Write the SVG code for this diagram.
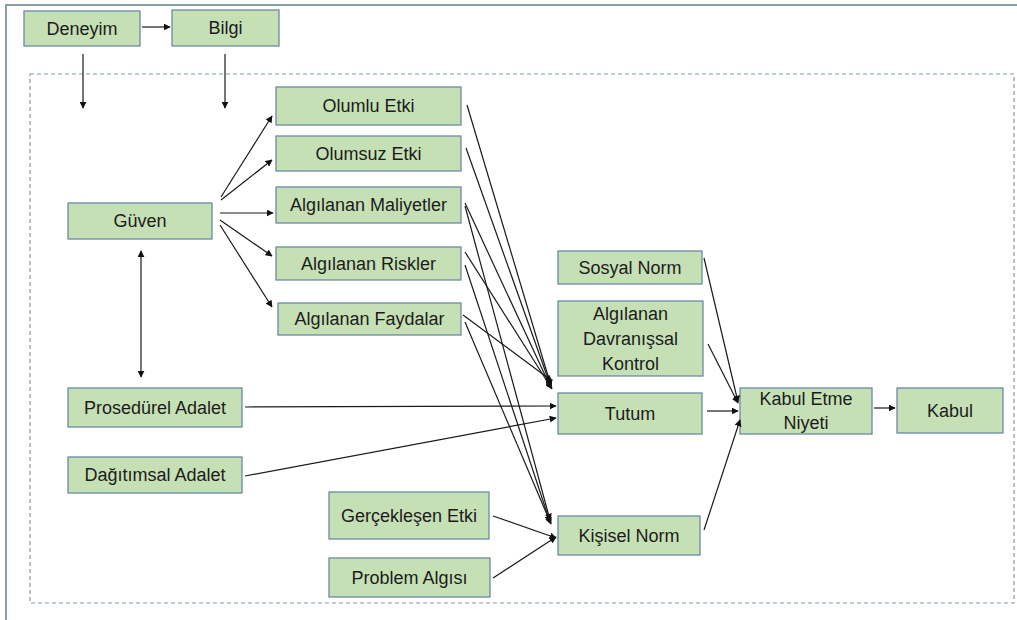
<svg xmlns="http://www.w3.org/2000/svg" width="1017" height="620" viewBox="0 0 1017 620">
<defs>
<marker id="ah" viewBox="0 0 10 10" refX="9" refY="5" markerWidth="7" markerHeight="7" markerUnits="userSpaceOnUse" orient="auto-start-reverse">
<path d="M0,0 L10,5 L0,10 z" fill="#111"/>
</marker>
<style>
.n rect{fill:#c6e0b5;stroke:#6a8ba4;stroke-width:1.3}
.n text{font-family:"Liberation Sans",Arial,sans-serif;font-size:18px;fill:#1c1c1c;text-anchor:middle;dominant-baseline:central}
.c line{stroke:#1a1a1a;stroke-width:1.2;marker-end:url(#ah)}
</style>
</defs>
<rect width="1017" height="620" fill="#fff"/>
<path d="M6,620 V5 H1017" fill="none" stroke="#8c9ea6" stroke-width="2"/>
<rect x="30" y="74" width="984" height="529" fill="none" stroke="#8499a8" stroke-width="1.2" stroke-dasharray="4 3"/>

<g id="n-deneyim" class="n"><rect x="24" y="11" width="116" height="35"/><text x="82" y="28.5">Deneyim</text></g>
<g id="n-bilgi" class="n"><rect x="172" y="10" width="107" height="36"/><text x="225.5" y="28">Bilgi</text></g>
<g id="n-olumlu" class="n"><rect x="276" y="87" width="185" height="38"/><text x="368.5" y="106">Olumlu Etki</text></g>
<g id="n-olumsuz" class="n"><rect x="276" y="136" width="185" height="35"/><text x="368.5" y="153.5">Olumsuz Etki</text></g>
<g id="n-maliyet" class="n"><rect x="276" y="187" width="185" height="36"/><text x="368.5" y="205">Algılanan Maliyetler</text></g>
<g id="n-risk" class="n"><rect x="276" y="247" width="185" height="33"/><text x="368.5" y="263.5">Algılanan Riskler</text></g>
<g id="n-fayda" class="n"><rect x="278" y="303" width="183" height="32"/><text x="369.5" y="319">Algılanan Faydalar</text></g>
<g id="n-guven" class="n"><rect x="68" y="203" width="144" height="36"/><text x="140" y="221">Güven</text></g>
<g id="n-prosedurel" class="n"><rect x="68" y="388" width="174" height="39"/><text x="155" y="407.5">Prosedürel Adalet</text></g>
<g id="n-dagitimsal" class="n"><rect x="68" y="457" width="174" height="36"/><text x="155" y="475">Dağıtımsal Adalet</text></g>
<g id="n-sosyal" class="n"><rect x="558" y="251" width="144" height="33"/><text x="630" y="267.5">Sosyal Norm</text></g>
<g id="n-adk" class="n"><rect x="558" y="301" width="145" height="75"/><text x="630.5" y="314">Algılanan</text><text x="630.5" y="339">Davranışsal</text><text x="630.5" y="364">Kontrol</text></g>
<g id="n-tutum" class="n"><rect x="558" y="393" width="144" height="41"/><text x="630" y="413.5">Tutum</text></g>
<g id="n-niyet" class="n"><rect x="740" y="388" width="132" height="46"/><text x="806" y="399">Kabul Etme</text><text x="806" y="423">Niyeti</text></g>
<g id="n-kabul" class="n"><rect x="897" y="388" width="106" height="45"/><text x="950" y="410.5">Kabul</text></g>
<g id="n-gerceklesen" class="n"><rect x="329" y="492" width="160" height="47"/><text x="409" y="515.5">Gerçekleşen Etki</text></g>
<g id="n-problem" class="n"><rect x="329" y="558" width="161" height="39"/><text x="409.5" y="577.5">Problem Algısı</text></g>
<g id="n-kisisel" class="n"><rect x="558" y="516" width="142" height="39"/><text x="629" y="535.5">Kişisel Norm</text></g>

<g id="connectors" class="c">
<line x1="142" y1="27" x2="170" y2="27"/>
<line x1="83" y1="54" x2="83" y2="108"/>
<line x1="225" y1="54" x2="225" y2="108"/>
<line x1="221" y1="197" x2="272" y2="116"/>
<line x1="221" y1="200" x2="272" y2="160"/>
<line x1="220" y1="213" x2="273" y2="213"/>
<line x1="220" y1="220" x2="272" y2="256"/>
<line x1="220" y1="225" x2="272" y2="307"/>
<line x1="141" y1="377" x2="141" y2="251" style="marker-start:url(#ah)"/>
<line x1="467" y1="105" x2="551" y2="386"/>
<line x1="466" y1="148" x2="551" y2="387"/>
<line x1="465" y1="203" x2="551" y2="388"/>
<line x1="465" y1="206" x2="550" y2="520"/>
<line x1="465" y1="252" x2="552" y2="389"/>
<line x1="465" y1="265" x2="550" y2="522"/>
<line x1="463" y1="315" x2="552" y2="381"/>
<line x1="465" y1="322" x2="551" y2="524"/>
<line x1="245" y1="407" x2="556" y2="406"/>
<line x1="245" y1="476" x2="556" y2="418"/>
<line x1="493" y1="516" x2="556" y2="538"/>
<line x1="493" y1="578" x2="556" y2="537"/>
<line x1="707" y1="411" x2="738" y2="411"/>
<line x1="704" y1="258" x2="738" y2="402"/>
<line x1="708" y1="344" x2="738" y2="403"/>
<line x1="704" y1="530" x2="740" y2="420"/>
<line x1="874" y1="408" x2="895" y2="408"/>
</g>
</svg>
